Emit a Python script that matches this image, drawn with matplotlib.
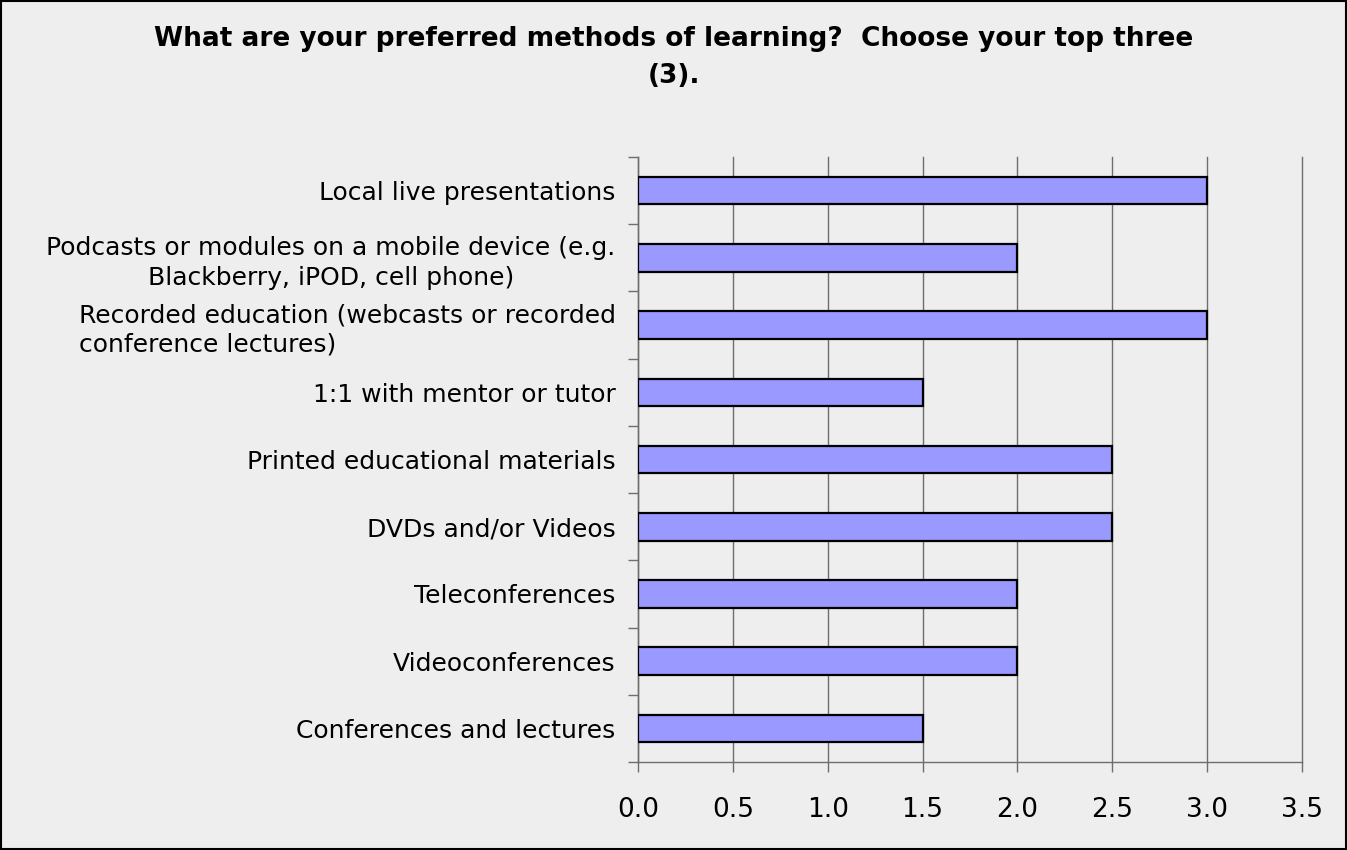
import matplotlib

matplotlib.use("Agg", force=True)
import matplotlib.pyplot as plt
from matplotlib import patches
from matplotlib.ticker import FixedLocator, MultipleLocator

# data, listed top to bottom as in the chart
categories = [
    "Local live presentations",
    "Podcasts or modules on a mobile device (e.g.\nBlackberry, iPOD, cell phone)",
    "Recorded education (webcasts or recorded\nconference lectures)",
    "1:1 with mentor or tutor",
    "Printed educational materials",
    "DVDs and/or Videos",
    "Teleconferences",
    "Videoconferences",
    "Conferences and lectures",
]
values = [3.0, 2.0, 3.0, 1.5, 2.5, 2.5, 2.0, 2.0, 1.5]
label_align = ["right", "center", "left", "right", "right", "right", "right", "right", "right"]

title = "What are your preferred methods of learning?  Choose your top three\n(3)."

bg = "#EEEEEE"
bar_color = "#9999FF"
grid_color = "#6E6E6E"

fig = plt.figure(figsize=(13.47, 8.5), dpi=100)
fig.patch.set_facecolor(bg)
ax = fig.add_axes([0.4736, 0.1035, 0.4930, 0.7118])
ax.set_facecolor(bg)

n = len(categories)
positions = list(range(n - 1, -1, -1))
ax.barh(positions, values, height=0.41, color=bar_color,
        edgecolor="black", linewidth=1.6, zorder=3)

ax.set_xlim(0, 3.5)
ax.set_ylim(-0.5, n - 0.5)
ax.xaxis.set_major_locator(MultipleLocator(0.5))
ax.set_xticklabels([f"{v:.1f}" for v in ax.get_xticks()])
ax.grid(True, axis="x", color=grid_color, linewidth=1.0, zorder=0)
for gl in ax.get_xgridlines():
    gl.set_clip_on(False)

ax.set_yticks(positions)
ax.set_yticklabels(categories, linespacing=1.28)
ax.yaxis.set_minor_locator(FixedLocator([p + 0.5 for p in range(-1, n)]))
ax.tick_params(axis="y", which="major", length=0, pad=16, labelsize=18)
ax.tick_params(axis="y", which="minor", length=7, width=1.0, color=grid_color, direction="out")
ax.tick_params(axis="x", which="major", length=7, width=1.0, color=grid_color,
               direction="out", pad=18, labelsize=19)
for lbl, al in zip(ax.get_yticklabels(), label_align):
    lbl.set_multialignment(al)

for side in ("top", "right"):
    ax.spines[side].set_visible(False)
for side in ("left", "bottom"):
    ax.spines[side].set_color(grid_color)
    ax.spines[side].set_linewidth(1.0)

fig.text(0.5, 0.969, title, ha="center", va="top", fontsize=19,
         fontweight="bold", linespacing=1.55)

fig.add_artist(patches.Rectangle((0.001, 0.001), 0.998, 0.998, transform=fig.transFigure,
                                 fill=False, edgecolor="black", linewidth=1.5))

fig.savefig("out.png", dpi=100, facecolor=bg)
